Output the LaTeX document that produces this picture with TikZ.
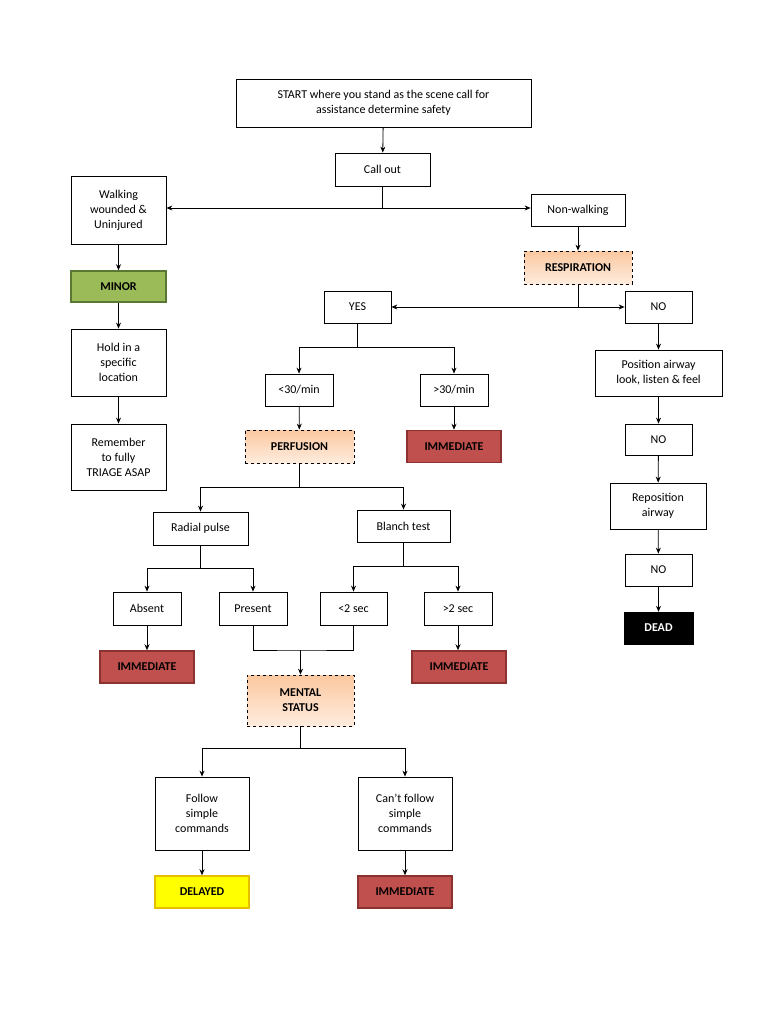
\documentclass[tikz,border=0pt]{standalone}
\usepackage{fontspec}
\setmainfont{Carlito}
\usetikzlibrary{arrows.meta}
\begin{document}
\begin{tikzpicture}[x=1pt,y=-1pt,
 every node/.style={font=\fontsize{12}{15}\selectfont,align=center,inner sep=0pt},
 box/.style={draw=black,line width=0.8pt,fill=white},
 imm/.style={draw={rgb,255:red,140;green,50;blue,48},line width=1.5pt,fill={rgb,255:red,192;green,80;blue,77},font=\fontsize{12}{15}\selectfont\bfseries,minimum width=94pt,minimum height=32pt},
 orbox/.style={draw=black,dashed,line width=0.8pt,top color={rgb,255:red,251;green,200;blue,160},bottom color={rgb,255:red,254;green,236;blue,222},font=\fontsize{12}{15}\selectfont\bfseries},
 arr/.style={-{Stealth[length=6pt,width=5pt]},line width=0.8pt},
 ln/.style={line width=0.8pt}]
\useasboundingbox (0,0) rectangle (768,1024);
\node[box,minimum width=295pt,minimum height=48pt] (start) at (383.5,103) {START where you stand as the scene call for\\assistance determine safety};
\node[box,minimum width=95pt,minimum height=33pt] (call) at (382.5,169.5) {Call out};
\node[box,minimum width=95pt,minimum height=68pt] (walk) at (118.5,210) {Walking\\wounded \&\\Uninjured};
\node[box,minimum width=94pt,minimum height=32pt] (nonw) at (578,210) {Non-walking};
\node[draw={rgb,255:red,90;green,120;blue,50},line width=1.5pt,fill={rgb,255:red,155;green,187;blue,89},font=\fontsize{12}{15}\selectfont\bfseries,minimum width=95pt,minimum height=31pt] (minor) at (118.5,286.5) {MINOR};
\node[orbox,minimum width=108pt,minimum height=33pt] (resp) at (578,267.5) {RESPIRATION};
\node[box,minimum width=67pt,minimum height=32pt] (yes) at (357.5,307) {YES};
\node[box,minimum width=67pt,minimum height=32pt] (no1) at (658.5,307) {NO};
\node[box,minimum width=95pt,minimum height=67pt] (hold) at (118.5,362.5) {Hold in a\\specific\\location};
\node[box,minimum width=68pt,minimum height=32pt] (lt30) at (299,390) {<30/min};
\node[box,minimum width=68pt,minimum height=32pt] (gt30) at (454,390) {>30/min};
\node[box,minimum width=127pt,minimum height=46pt] (pos) at (658.5,373) {Position airway\\look, listen \& feel};
\node[box,minimum width=95pt,minimum height=66pt] (rem) at (118.5,457) {Remember\\to fully\\TRIAGE ASAP};
\node[orbox,minimum width=109pt,minimum height=33pt] (perf) at (299.5,446.5) {PERFUSION};
\node[imm] (i1) at (454,446.5) {IMMEDIATE};
\node[box,minimum width=67pt,minimum height=31pt] (no2) at (658.5,439.5) {NO};
\node[box,minimum width=96pt,minimum height=46pt] (rep) at (658,506) {Reposition\\airway};
\node[box,minimum width=95pt,minimum height=33pt] (rad) at (200.5,528.5) {Radial pulse};
\node[box,minimum width=93pt,minimum height=32pt] (bl) at (403.5,526) {Blanch test};
\node[box,minimum width=68pt,minimum height=33pt] (abs) at (147,608.5) {Absent};
\node[box,minimum width=68pt,minimum height=33pt] (pres) at (253,608.5) {Present};
\node[box,minimum width=67pt,minimum height=33pt] (lt2) at (353.5,608.5) {<2 sec};
\node[box,minimum width=68pt,minimum height=33pt] (gt2) at (458,608.5) {>2 sec};
\node[box,minimum width=67pt,minimum height=32pt] (no3) at (658.5,570) {NO};
\node[draw=black,fill=black,text=white,font=\fontsize{12}{15}\selectfont\bfseries,minimum width=69pt,minimum height=32pt] (dead) at (658.5,628) {DEAD};
\node[imm] (i2) at (147,667) {IMMEDIATE};
\node[imm] (i3) at (459,667) {IMMEDIATE};
\node[orbox,minimum width=107pt,minimum height=51pt] (ment) at (300.5,700.5) {MENTAL\\STATUS};
\node[box,minimum width=94pt,minimum height=73pt] (fol) at (202,813.5) {Follow\\simple\\commands};
\node[box,minimum width=94pt,minimum height=73pt] (cfol) at (405,813.5) {Can't follow\\simple\\commands};
\node[draw={rgb,255:red,230;green,190;blue,0},line width=1.5pt,fill={rgb,255:red,255;green,255;blue,0},font=\fontsize{12}{15}\selectfont\bfseries,minimum width=94pt,minimum height=32pt] (del) at (202,892) {DELAYED};
\node[imm] (i4) at (405,892) {IMMEDIATE};

\draw[arr] (start) -- (call);
\coordinate (c1) at (382.5,208);
\draw[ln] (call.south) -- (c1);
\draw[arr] (c1) -- (walk.east|-c1);
\draw[arr] (c1) -- (nonw.west|-c1);
\draw[arr] (walk) -- (minor);
\draw[arr] (minor) -- (hold);
\draw[arr] (hold) -- (rem);
\draw[arr] (nonw) -- (resp);
\coordinate (c2) at (578,307);
\draw[ln] (resp.south) -- (c2);
\draw[arr] (c2) -- (yes.east);
\draw[arr] (c2) -- (no1.west);
\coordinate (c3) at (357.5,347);
\draw[ln] (yes.south) -- (c3);
\draw[ln] (lt30.north|-c3) -- (gt30.north|-c3);
\draw[arr] (lt30.north|-c3) -- (lt30.north);
\draw[arr] (gt30.north|-c3) -- (gt30.north);
\draw[arr] (lt30) -- (perf);
\draw[arr] (gt30) -- (i1);
\draw[arr] (no1) -- (pos);
\draw[arr] (pos) -- (no2);
\draw[arr] (no2) -- (rep);
\draw[arr] (rep) -- (no3);
\draw[arr] (no3) -- (dead);
\coordinate (c4) at (299.5,487);
\draw[ln] (perf.south) -- (c4);
\draw[ln] (rad.north|-c4) -- (bl.north|-c4);
\draw[arr] (rad.north|-c4) -- (rad.north);
\draw[arr] (bl.north|-c4) -- (bl.north);
\coordinate (c5) at (200.5,568);
\draw[ln] (rad.south) -- (c5);
\draw[ln] (abs.north|-c5) -- (pres.north|-c5);
\draw[arr] (abs.north|-c5) -- (abs.north);
\draw[arr] (pres.north|-c5) -- (pres.north);
\coordinate (c6) at (403.5,566);
\draw[ln] (bl.south) -- (c6);
\draw[ln] (lt2.north|-c6) -- (gt2.north|-c6);
\draw[arr] (lt2.north|-c6) -- (lt2.north);
\draw[arr] (gt2.north|-c6) -- (gt2.north);
\draw[arr] (abs) -- (i2);
\draw[arr] (gt2.south) -- (i3.north-|gt2.south);
\coordinate (c7) at (300.5,650);
\draw[ln] (pres.south) |- (c7) -| (lt2.south);
\draw[arr] (c7) -- (ment.north);
\coordinate (c8) at (300.5,748);
\draw[ln] (ment.south) -- (c8);
\draw[ln] (fol.north|-c8) -- (cfol.north|-c8);
\draw[arr] (fol.north|-c8) -- (fol.north);
\draw[arr] (cfol.north|-c8) -- (cfol.north);
\draw[arr] (fol) -- (del);
\draw[arr] (cfol) -- (i4);
\end{tikzpicture}
\end{document}
